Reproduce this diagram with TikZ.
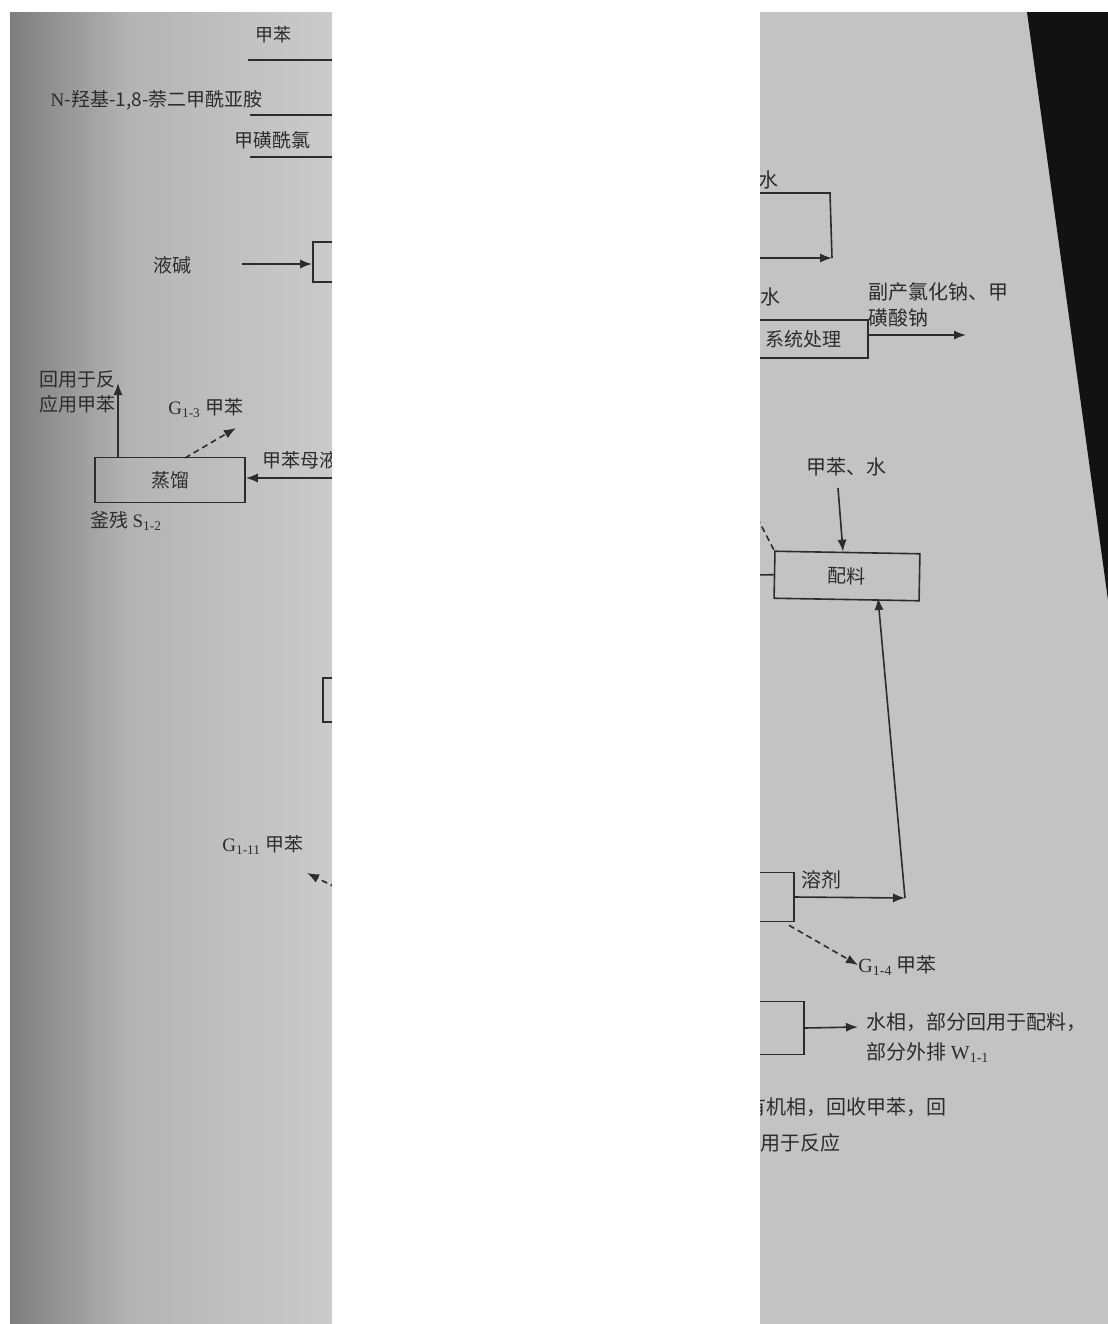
\documentclass[tikz,border=0pt]{standalone}
\usepackage{fontspec}
\setmainfont{Liberation Serif}
\newfontfamily\cjk{Noto Sans CJK SC}
\usetikzlibrary{arrows.meta,calc}
\definecolor{ink}{HTML}{2C2C2C}
\definecolor{paperL}{HTML}{CBCBCB}
\definecolor{paperD}{HTML}{7E7E7E}
\definecolor{paperM}{HTML}{B4B4B4}
\definecolor{paperR}{HTML}{C3C3C3}
\tikzset{
  lbl/.style={text=ink, font=\cjk\fontsize{9.5}{12.5}\selectfont, inner sep=0pt},
  rlbl/.style={lbl, font=\cjk\fontsize{10}{13}\selectfont},
  smalllbl/.style={lbl, font=\cjk\fontsize{9}{11}\selectfont},
  box/.style={draw=ink, line width=0.8pt, inner sep=0pt, text=ink, font=\cjk\fontsize{9.5}{12}\selectfont},
  flow/.style={draw=ink, line width=0.8pt, -{Latex[length=6pt,width=4.6pt]}},
  plain/.style={draw=ink, line width=0.8pt},
  gas/.style={flow, dashed, dash pattern=on 3pt off 2pt},
}
\begin{document}
\begin{tikzpicture}[x=0.5pt,y=-0.5pt]
\useasboundingbox (0,0) rectangle (1108,1324);
\fill[white] (0,0) rectangle (1108,1324);
% photographed paper, left page part
\shade[left color=paperD, right color=paperM] (10,12) rectangle (130,1324);
\shade[left color=paperM, right color=paperL] (130,12) rectangle (332,1324);
% right page part
\fill[paperR] (760,12) rectangle (1108,1324);
\fill[black!93] (1027,12) -- (1108,12) -- (1108,600) -- cycle;

% ---------- left part ----------
\node[smalllbl] (tol) at (273,35) {甲苯};
\coordinate (u1a) at (248,60); \coordinate (u1b) at (345,60);
\draw[plain] (u1a) -- (u1b);
\node[lbl, anchor=east] (nhn) at (263,100) {{\rmfamily N}-羟基-1,8-萘二甲酰亚胺};
\coordinate (u2a) at (250,115); \coordinate (u2b) at (345,115);
\draw[plain] (u2a) -- (u2b);
\node[lbl, anchor=east] (msc) at (311,140) {甲磺酰氯};
\coordinate (u3a) at (250,157); \coordinate (u3b) at (345,157);
\draw[plain] (u3a) -- (u3b);

\node[lbl] (naoh) at (172,265) {液碱};
\node[box, minimum width=30pt, minimum height=20pt, anchor=west] (react) at (312,262) {};
\coordinate (naohs) at (242,264);
\draw[flow] (naohs) -- (react.west |- naohs);

\node[box, minimum width=75pt, minimum height=22.5pt] (dist) at (170,480) {蒸馏};
\coordinate (mlin) at (350,478);
\node[lbl, anchor=west] (mltext) at (262,460) {甲苯母液};
\draw[flow] (mlin) -- (dist.east |- mlin);
\coordinate (recup) at (118,383);
\draw[flow] (dist.north -| recup) -- (recup);
\node[lbl, align=left, anchor=east] (rectext) at (116,392) {回用于反\\应用甲苯};
\coordinate (g13s) at (185,458); \coordinate (g13e) at (236,428);
\draw[gas] (g13s) -- (g13e);
\node[lbl, anchor=west] (g13) at (168,408) {{\rmfamily G\textsubscript{1-3}} 甲苯};
\node[lbl, anchor=west] (s12) at (90,521) {釜残 {\rmfamily S\textsubscript{1-2}}};

\node[box, minimum width=30pt, minimum height=22pt, anchor=west] (bmid) at (322,700) {};
\coordinate (g111s) at (345,892); \coordinate (g111e) at (307,873);
\draw[gas] (g111s) -- (g111e);
\node[lbl, anchor=west] (g111) at (222,845) {{\rmfamily G\textsubscript{1-11}} 甲苯};

% ---------- right part ----------
\node[rlbl, anchor=west] (w1) at (758,180) {水};
\coordinate (rt1) at (740,193); \coordinate (rt2) at (830,193); \coordinate (rt3) at (832,258);
\coordinate (rt4) at (740,258);
\draw[plain] (rt1) -- (rt2) -- (rt3);
\draw[flow] (rt4) -- (rt3);
\node[rlbl, anchor=west] (w2) at (760,297) {水};
\node[box, minimum width=65pt, minimum height=19pt] (sys) at (803,339) {系统处理};
\coordinate (byp) at (966,335);
\draw[flow] (sys.east |- byp) -- (byp);
\node[rlbl, align=left, anchor=north west] (bytext) at (868,282) {副产氯化钠、甲\\磺酸钠};

\node[rlbl] (tw) at (846,467) {甲苯、水};
\node[box, minimum width=72.5pt, minimum height=23.5pt, rotate=-1] (mix) at (847,576) {配料};
\coordinate (twb) at (838,488);
\draw[flow] (twb) -- (mix.north -| 843,0);
\coordinate (dl) at (748,500);
\draw[plain, dashed, dash pattern=on 3pt off 2pt] (dl) -- (mix.north west);
\coordinate (ml) at (745,575);
\draw[plain] (ml) -- (mix.west);

\node[box, minimum width=50pt, minimum height=24.5pt, anchor=east] (sol) at (795,897) {};
\node[rlbl, anchor=west] (soltext) at (801,880) {溶剂};
\coordinate (solc) at (905,898);
\draw[flow] (sol.east) -- (solc);
\coordinate (mixb) at (878,598);
\draw[flow] (solc) -- (mixb);
\coordinate (g14e) at (858,965);
\draw[gas] (sol.south east) ++(-6,3) coordinate (g14s) -- (g14e);
\node[rlbl, anchor=west] (g14) at (858,966) {{\rmfamily G\textsubscript{1-4}} 甲苯};

\node[box, minimum width=50pt, minimum height=26.5pt, anchor=east] (sep) at (805,1028) {};
\coordinate (aqe) at (858,1027);
\draw[flow] (sep.east) -- (aqe);
\node[rlbl, font=\cjk\fontsize{10}{15}\selectfont, align=left, anchor=north west] (aq) at (866,1012) {水相，部分回用于配料，\\部分外排 {\rmfamily W\textsubscript{1-1}}};
\node[rlbl, anchor=west] (org1) at (746,1107) {有机相，回收甲苯，回};
\node[rlbl, anchor=west] (org2) at (760,1143) {用于反应};

% white strip hiding the middle of the page
\fill[white] (332,0) rectangle (760,1324);
\end{tikzpicture}
\end{document}
